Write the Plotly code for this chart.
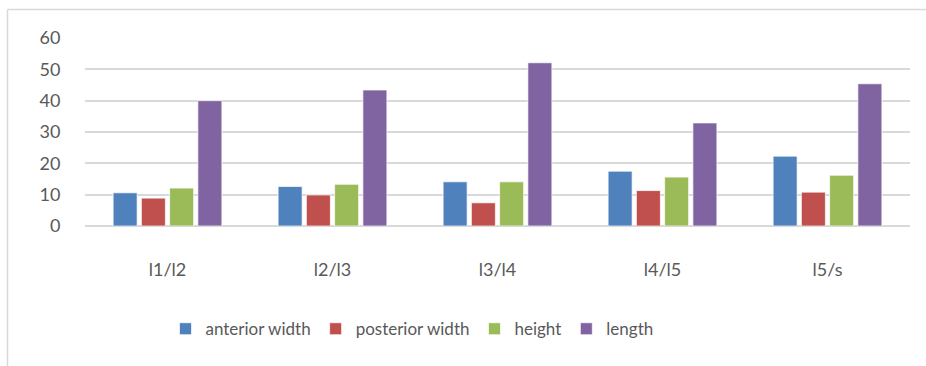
import plotly.graph_objects as go

categories = ["l1/l2", "l2/l3", "l3/l4", "l4/l5", "l5/s"]
anterior_width = [10.6, 12.6, 14.1, 17.5, 22.3]
posterior_width = [8.9, 9.9, 7.4, 11.3, 10.8]
height = [12.1, 13.3, 14.1, 15.6, 16.2]
length = [40.0, 43.4, 52.1, 32.9, 45.4]

series = [
    ("anterior width", anterior_width, "#4F81BD"),
    ("posterior width", posterior_width, "#C0504D"),
    ("height", height, "#9BBB59"),
    ("length", length, "#8064A2"),
]

W, H = 926, 366
ml, mr, mt, mb = 85, 16, 37.5, 140.3

fig = go.Figure()
for name, vals, col in series:
    fig.add_trace(go.Bar(
        x=categories, y=vals, name=name,
        marker=dict(color=col, line=dict(color="rgba(255,255,255,0.7)", width=1)),
    ))

font_family = "Lato, 'Open Sans', sans-serif"
pw = W - ml - mr
ph = H - mt - mb

def px_x(x):
    return (x - ml) / pw

def px_y(y):
    return (H - mb - y) / ph

fig.update_layout(
    width=W, height=H,
    margin=dict(l=ml, r=mr, t=mt, b=mb, pad=0),
    paper_bgcolor="white", plot_bgcolor="white",
    barmode="group", bargap=0.315, bargroupgap=0.15,
    font=dict(family=font_family, size=18, color="#595959"),
    showlegend=True,
    legend=dict(orientation="h", x=px_x(412), xanchor="center",
                y=px_y(329), yanchor="middle",
                font=dict(size=17, color="#595959"),
                traceorder="normal", itemclick=False),
    xaxis=dict(showgrid=False, showline=False, zeroline=False,
               ticks="outside", ticklen=27, tickcolor="rgba(0,0,0,0)",
               tickfont=dict(size=18, color="#595959")),
    yaxis=dict(range=[0, 60], dtick=10, showgrid=True, gridcolor="#d9d9d9",
               gridwidth=1.8, zeroline=True, zerolinecolor="#d9d9d9", zerolinewidth=1.8,
               showline=False, ticks="outside", ticklen=20, tickcolor="rgba(0,0,0,0)",
               tickfont=dict(size=18, color="#595959")),
    shapes=[
        dict(type="line", xref="paper", yref="paper",
             x0=px_x(7.5), x1=px_x(7.5), y0=px_y(9), y1=px_y(370),
             line=dict(color="#d9d9d9", width=1.5)),
        dict(type="line", xref="paper", yref="paper",
             x0=px_x(7.5), x1=px_x(930), y0=px_y(9), y1=px_y(9),
             line=dict(color="#d9d9d9", width=1.5)),
    ],
)

fig.write_html("out.html")
